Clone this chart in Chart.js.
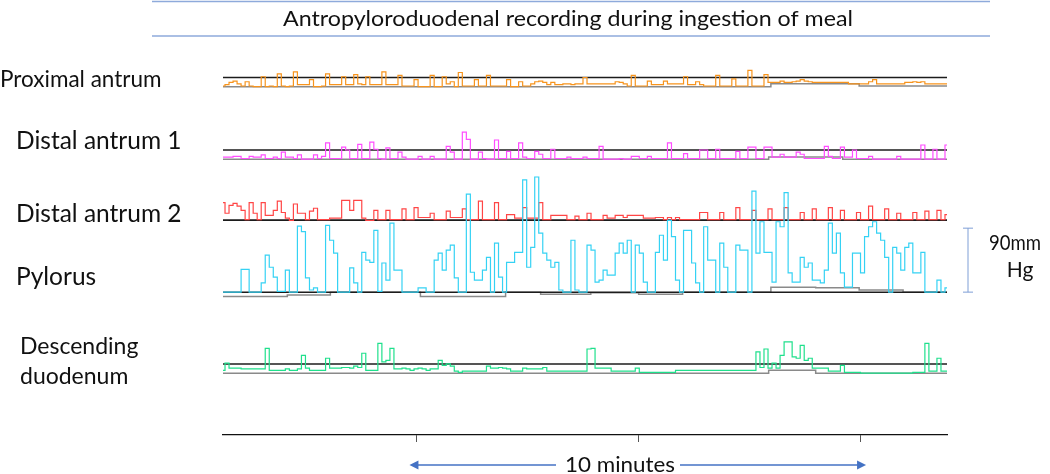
<!DOCTYPE html>
<html>
<head>
<meta charset="utf-8">
<title>Antropyloroduodenal recording</title>
<script src="https://cdn.jsdelivr.net/npm/chart.js@4.4.1/dist/chart.umd.min.js"></script>
<style>
  html, body { margin: 0; padding: 0; background: #fff; }
  #wrap { position: relative; width: 1050px; height: 474px; }
</style>
</head>
<body>
<div id="wrap"><canvas id="trace"></canvas></div>
<script>
/* ================= DATA ================= */
// pressure above each channel baseline (mmHg), readings evenly spaced over the recording
const proxAntrum = [
  1,3,6,8,4,1,7,1,0,0,
  14,0,1,0,18,1,0,1,21,3,
  3,3,10,0,0,1,18,3,3,3,
  14,3,3,17,4,3,14,3,3,3,
  21,3,3,3,16,1,1,1,10,0,
  0,0,16,0,0,14,4,7,0,20,
  1,1,1,10,1,1,16,1,1,1,
  1,10,0,0,7,1,1,4,7,8,
  6,3,6,3,3,4,4,3,4,4,
  13,4,4,4,4,4,4,4,7,6,
  4,1,16,1,1,1,8,3,3,3,
  8,4,4,4,4,14,3,3,7,3,
  1,1,1,16,1,1,1,11,1,1,
  1,23,1,1,1,17,6,6,6,8,
  6,6,7,8,10,8,7,6,6,6,
  6,6,6,6,6,6,4,4,4,4,
  4,7,10,4,4,4,4,4,4,4,
  6,6,7,6,7,4,4,4,4,4,4
];
const distAntrum1 = [
  3,3,3,4,4,1,1,4,3,3,
  6,1,1,3,1,10,3,3,1,6,
  0,0,0,6,1,4,23,1,1,1,
  17,13,1,1,21,1,1,24,14,1,
  0,16,1,1,10,3,0,0,0,4,
  0,0,4,0,0,0,18,10,0,0,
  38,28,0,0,10,1,0,0,27,1,
  1,11,1,1,23,3,1,1,11,7,
  1,1,14,1,1,1,3,1,1,1,
  3,1,1,1,18,0,0,0,0,1,
  0,0,4,4,1,1,4,1,1,1,
  1,23,1,1,1,8,1,1,1,13,
  13,1,1,14,1,1,1,1,11,1,
  1,17,17,1,1,17,17,3,3,7,
  3,3,3,10,7,1,1,1,1,1,
  18,4,1,1,17,3,3,13,1,1,
  1,4,0,0,0,0,0,0,4,0,
  0,0,0,0,20,0,0,14,0,0,20
];
const distAntrum2 = [
  25,10,21,24,20,14,1,25,10,1,
  25,7,7,14,27,11,3,0,23,10,
  10,1,13,17,1,1,1,3,3,3,
  28,28,14,28,28,3,0,0,14,1,
  1,14,1,1,1,16,1,1,18,4,
  4,4,10,1,1,1,13,4,4,4,
  16,1,1,1,27,1,1,1,25,1,
  1,8,8,3,3,18,3,3,3,25,
  1,1,7,7,7,7,1,1,6,1,
  1,10,1,1,1,7,3,3,7,7,
  4,7,7,7,7,3,3,3,4,4,
  1,4,1,4,1,1,1,1,1,11,
  11,1,1,1,11,1,1,1,18,1,
  1,1,14,1,1,1,16,1,1,1,
  18,1,1,1,11,1,1,16,1,1,
  1,18,1,1,14,1,1,1,11,1,
  1,20,1,1,1,16,1,1,10,1,
  1,1,11,1,1,13,1,1,14,1,8
];
const pylorus = [
  0,0,0,0,0,32,32,0,0,0,
  13,52,35,21,1,1,31,0,0,93,
  85,20,3,6,0,0,94,73,55,0,
  0,0,34,13,0,56,45,42,87,1,
  41,17,97,31,31,0,0,0,0,6,
  6,0,0,45,55,31,59,66,20,0,
  0,138,28,17,17,31,49,0,69,21,
  0,42,42,56,56,158,35,63,162,83,
  55,45,35,42,3,0,0,73,3,0,
  0,66,59,14,17,31,24,24,55,69,
  55,73,0,66,55,14,0,0,56,80,
  45,101,78,17,0,87,87,41,13,0,
  92,45,45,0,69,35,0,0,66,59,
  59,0,142,55,99,56,56,14,99,92,
  140,27,14,14,49,35,41,17,17,13,
  31,97,55,83,27,7,7,55,55,27,
  78,92,99,83,73,49,0,63,55,31,
  63,69,27,27,56,0,0,0,17,0,6
];
const duodenum = [
  4,14,7,7,7,6,6,6,6,6,
  6,35,4,4,4,4,6,4,4,6,
  25,7,4,4,4,4,21,7,7,7,
  8,8,7,10,8,28,4,4,4,42,
  16,18,35,6,6,7,6,4,6,7,
  6,4,6,6,18,11,13,10,3,1,
  3,3,3,3,3,3,10,7,7,8,
  7,6,3,3,3,7,6,6,6,6,
  8,3,3,3,3,3,3,3,3,3,
  3,34,35,7,7,7,7,3,3,3,
  3,3,3,7,1,1,1,1,1,1,
  1,1,1,4,4,4,4,4,4,4,
  4,4,4,4,4,4,4,4,4,4,
  4,4,4,30,8,34,7,14,7,25,
  44,44,23,21,39,18,21,7,7,7,
  7,3,3,3,11,1,1,1,1,0,
  0,0,0,0,0,0,0,0,0,0,
  0,0,1,1,1,42,3,3,21,3,3
];

// grey baseline of each channel: level (mmHg) starting at time (min)
const proxBaseT = [0.64, 12.99, 14.98, 16.96];
const proxBaseV = [0, 4, 1, 1];
const dist1BaseT = [0.64, 12.94, 14.61, 16.96];
const dist1BaseV = [0, 3, 0, 0];
const dist2BaseT = [0.64, 16.96];
const dist2BaseV = [1, 1];
const pyloBaseT = [0.64, 2.09, 3.06, 5.09, 7.01, 7.80, 8.93, 10.01, 11.00, 12.99, 14.00, 14.98, 15.97, 16.96];
const pyloBaseV = [-6, -4, 0, -6, 0, -3, -1, -3, 0, 7, 6, 3, 0, 0];
const duodBaseT = [0.64, 12.94, 14.00, 16.96];
const duodBaseV = [0, 4, 0, 0];

// black reference line of each channel (mmHg above baseline)
const refLevels = [13, 13, 0, 0, 13];

const channelNames = ["Proximal antrum", "Distal antrum 1", "Distal antrum 2", "Pylorus", ["Descending", "duodenum"]];
const tickMinutes = [5, 10, 15];
const T_START = 0.64;
const T_END = 16.96;
const SCALE_MMHG = 90;
const TITLE = "Antropyloroduodenal recording during ingestion of meal";

/* ================= LAYOUT / STYLE ================= */
const Y_MAX = 612;
const offsets = [490, 388, 302, 201, 87];
const colors = ["#f7941d", "#ff4dff", "#ff4646", "#35d2f4", "#1fe08c"];
// left edge, vertical centre and font size of each name
const labelPos = [[0, 80, 22.5], [16, 141, 24.5], [16, 214, 24.5], [16, 277, 24.5], [20, 347, 23]];
const FONT = 'Lato, "Open Sans", sans-serif';

const traces = [proxAntrum, distAntrum1, distAntrum2, pylorus, duodenum];
const baseTs = [proxBaseT, dist1BaseT, dist2BaseT, pyloBaseT, duodBaseT];
const baseVs = [proxBaseV, dist1BaseV, dist2BaseV, pyloBaseV, duodBaseV];

function series(values, off) {
  const step = (T_END - T_START) / (values.length - 1);
  return values.map((v, i) => ({ x: T_START + i * step, y: off + v }));
}

function levels(ts, vs, off) {
  return ts.map((t, i) => ({ x: t, y: off + vs[i] }));
}

/* ================= DATASETS ================= */
const datasets = [];
// pylorus first so it sits on top of the distal antrum trace
[3, 2, 1, 0, 4].forEach(c => {
  datasets.push({
    data: series(traces[c], offsets[c]),
    borderColor: colors[c],
    borderWidth: 1.2,
    stepped: "middle",
    pointRadius: 0
  });
});
traces.forEach((_, c) => {
  datasets.push({
    data: [{ x: T_START, y: offsets[c] + refLevels[c] }, { x: T_END, y: offsets[c] + refLevels[c] }],
    borderColor: "#1c1c1c",
    borderWidth: 1.5,
    pointRadius: 0
  });
});
traces.forEach((_, c) => {
  datasets.push({
    data: levels(baseTs[c], baseVs[c], offsets[c]),
    borderColor: "#8a8a8a",
    borderWidth: 1.5,
    stepped: true,
    pointRadius: 0
  });
});

/* ================= TEXT + ANNOTATIONS ================= */
function hline(ctx, x0, x1, y) {
  ctx.beginPath(); ctx.moveTo(x0, y); ctx.lineTo(x1, y); ctx.stroke();
}

function arrowHead(ctx, x, y, dir) {
  ctx.beginPath();
  ctx.moveTo(x, y);
  ctx.lineTo(x - dir * 9, y - 4.5);
  ctx.lineTo(x - dir * 9, y + 4.5);
  ctx.closePath();
  ctx.fill();
}

// text squeezed/stretched to the width it has in the slide
function fitText(ctx, text, x, y, size, width) {
  ctx.font = size + "px " + FONT;
  const w = ctx.measureText(text).width;
  ctx.save();
  ctx.translate(x, y);
  ctx.scale(width ? width / w : 1, 1);
  ctx.fillText(text, 0, 0);
  ctx.restore();
}

const overlay = {
  id: "overlay",
  afterDraw(chart) {
    const { ctx, scales: { x, y } } = chart;
    ctx.save();

    // title between two rules
    ctx.strokeStyle = "#8eaadb";
    ctx.lineWidth = 1.5;
    hline(ctx, 152, 990, 1.5);
    hline(ctx, 152, 990, 36);
    ctx.fillStyle = "#111";
    ctx.textAlign = "center";
    ctx.textBaseline = "middle";
    fitText(ctx, TITLE, 568, 19, 21, 570);

    // channel names
    ctx.textAlign = "left";
    channelNames.forEach((name, c) => {
      const [lx, ly, size] = labelPos[c];
      const lines = Array.isArray(name) ? name : [name];
      lines.forEach((t, k) => fitText(ctx, t, lx, ly + k * 30, size));
    });

    // 90 mmHg calibration bar beside the pylorus
    const barX = 968;
    const yTop = y.getPixelForValue(offsets[3] + SCALE_MMHG);
    const yBot = y.getPixelForValue(offsets[3]);
    ctx.strokeStyle = "#7f9fd6";
    ctx.lineWidth = 1;
    ctx.beginPath();
    ctx.moveTo(barX, yTop); ctx.lineTo(barX, yBot);
    ctx.moveTo(barX - 5, yTop); ctx.lineTo(barX + 5, yTop);
    ctx.moveTo(barX - 5, yBot); ctx.lineTo(barX + 5, yBot);
    ctx.stroke();
    ctx.textAlign = "center";
    fitText(ctx, "90mm", 1015, yTop + 15, 21, 52);
    fitText(ctx, "Hg", 1020, yTop + 42, 21);

    // 10 minute arrow under the time axis
    const ax0 = x.getPixelForValue(tickMinutes[0]) - 7;
    const ax1 = x.getPixelForValue(tickMinutes[2]) + 6;
    const ay = 465;
    const tx = 620;
    ctx.strokeStyle = "#4472c4";
    ctx.fillStyle = "#4472c4";
    ctx.lineWidth = 1.6;
    hline(ctx, ax0 + 4, tx - 64, ay);
    hline(ctx, tx + 60, ax1 - 4, ay);
    arrowHead(ctx, ax0, ay, -1);
    arrowHead(ctx, ax1, ay, 1);
    ctx.fillStyle = "#111";
    fitText(ctx, "10 minutes", tx, ay, 21, 110);

    ctx.restore();
  }
};

/* ================= CHART ================= */
new Chart(document.getElementById("trace"), {
  type: "line",
  data: { datasets },
  options: {
    responsive: true,
    maintainAspectRatio: false,
    animation: false,
    events: [],
    layout: { padding: { left: 223, right: 103, top: 0, bottom: 0 } },
    plugins: { legend: { display: false }, tooltip: { enabled: false } },
    scales: {
      x: {
        type: "linear",
        min: T_START,
        max: T_END,
        afterBuildTicks: s => { s.ticks = tickMinutes.map(v => ({ value: v })); },
        afterFit: s => { s.height = 39; },
        grid: { drawOnChartArea: false, drawTicks: true, tickLength: 7, color: "#555", lineWidth: 1 },
        border: { display: true, color: "#111", width: 1.2 },
        ticks: { display: false }
      },
      y: { display: false, min: 0, max: Y_MAX }
    }
  },
  plugins: [overlay]
});
</script>
</body>
</html>
